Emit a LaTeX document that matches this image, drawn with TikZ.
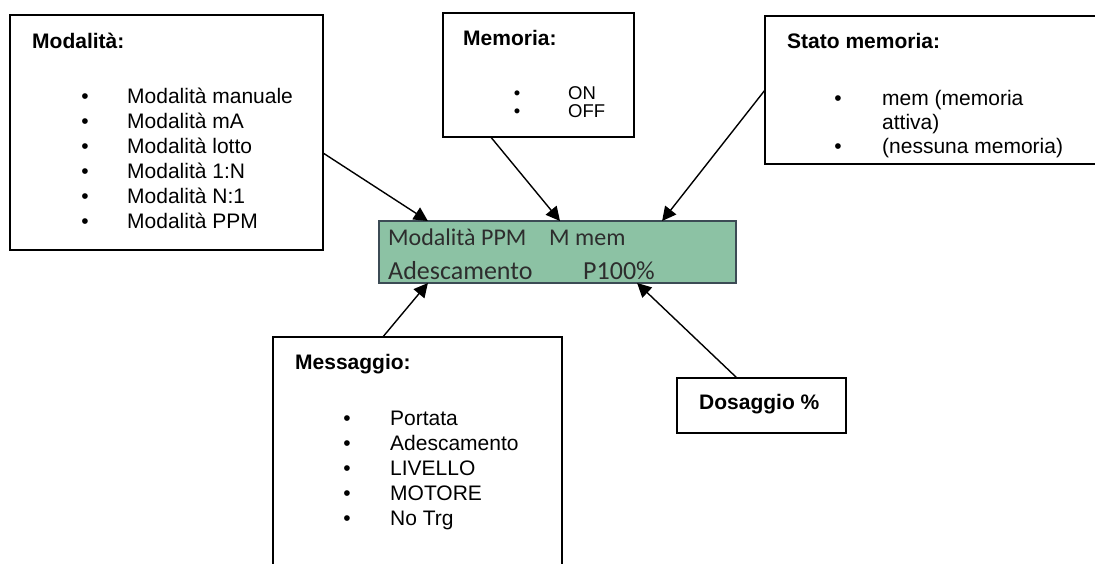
\documentclass[tikz,border=0pt]{standalone}
\usepackage{fontspec}
\setmainfont{Liberation Sans}
\newfontfamily\lcdfont{Carlito}
\usetikzlibrary{arrows.meta,calc}
\definecolor{lcdgreen}{RGB}{140,194,164}
\definecolor{lcdedge}{RGB}{60,75,85}
\definecolor{lcdtext}{RGB}{45,45,45}
\tikzset{
 box/.style={draw=black, line width=1.5pt, fill=white, inner sep=0pt, outer sep=0pt, anchor=north west, rectangle},
 ttl/.style={anchor=base west, inner sep=0pt, font=\fontsize{21}{25}\selectfont\bfseries},
 itm/.style={anchor=base west, inner sep=0pt, font=\fontsize{21}{25}\selectfont},
 bul/.style={anchor=base, inner sep=0pt, font=\fontsize{21}{25}\selectfont},
 sitm/.style={anchor=base west, inner sep=0pt, font=\fontsize{18.5}{20}\selectfont},
 sbul/.style={anchor=base, inner sep=0pt, font=\fontsize{18.5}{20}\selectfont},
 lcdtxt/.style={anchor=base west, inner sep=0pt, text=lcdtext, font=\lcdfont\fontsize{26}{30}\selectfont},
 lcdtxtA/.style={anchor=base west, inner sep=0pt, text=lcdtext, font=\lcdfont\fontsize{24}{28}\selectfont},
 conn/.style={line width=1.4pt, -{Triangle[length=14pt,width=14pt]}},
}
\begin{document}
\begin{tikzpicture}[x=1pt,y=-1pt]
\useasboundingbox (0,0) rectangle (1095,563);
\clip (0,0) rectangle (1095,563);

% Modalita box
\node[box, minimum width=313pt, minimum height=235pt] (mod) at (10,15) {};
\node[ttl] (modt) at (32,48) {Modalità:};
\foreach \t [count=\i from 0] in {Modalità manuale, Modalità mA, Modalità lotto, Modalità 1:N, Modalità N:1, Modalità PPM}{
  \node[bul] (modb\i) at (85,103+25*\i) {•};
  \node[itm] (modi\i) at (127,103+25*\i) {\t};
}

% Memoria box
\node[box, minimum width=191pt, minimum height=124pt] (memo) at (443,13) {};
\node[ttl] (memot) at (463,45) {Memoria:};
\node[sbul] (memob0) at (517,99) {•};
\node[sitm] (memoi0) at (568,99) {ON};
\node[sbul] (memob1) at (517,117) {•};
\node[sitm] (memoi1) at (568,117) {OFF};

% Stato memoria box
\node[box, minimum width=345pt, minimum height=148pt] (stato) at (765,16) {};
\node[ttl] (statot) at (787,48) {Stato memoria:};
\node[bul] (statob0) at (838,105) {•};
\node[itm] (statoi0) at (882,105) {mem (memoria};
\node[itm] (statoi1) at (882,129) {attiva)};
\node[bul] (statob2) at (838,153) {•};
\node[itm] (statoi2) at (882,153) {(nessuna memoria)};

% Messaggio box
\node[box, minimum width=289pt, minimum height=240pt] (msg) at (273,337) {};
\node[ttl] (msgt) at (295,369) {Messaggio:};
\foreach \t [count=\i from 0] in {Portata, Adescamento, LIVELLO, MOTORE, No Trg}{
  \node[bul] (msgb\i) at (347,425+25*\i) {•};
  \node[itm] (msgi\i) at (390,425+25*\i) {\t};
}

% Dosaggio box
\node[box, minimum width=169pt, minimum height=55pt] (dos) at (677,378) {};
\node[ttl] (dost) at (699,409) {Dosaggio \%};

% LCD
\node[draw=lcdedge, fill=lcdgreen, line width=2pt, inner sep=0pt, outer sep=0pt, anchor=north west, minimum width=357pt, minimum height=62pt] (lcd) at (379,221) {};
\node[lcdtxtA] (l1a) at (388,245) {Modalità PPM};
\node[lcdtxtA] (l1b) at (549,245) {M mem};
\node[lcdtxt] (l2a) at (388,279) {Adescamento};
\node[lcdtxt] (l2b) at (583,279) {P100\%};

% connectors
\draw[conn] ($(mod.north east)!0.587!(mod.south east)$) -- ($(lcd.north west)!0.137!(lcd.north east)$);
\draw[conn] ($(memo.south west)!0.25!(memo.south east)$) -- ($(lcd.north west)!0.507!(lcd.north east)$);
\draw[conn] ($(stato.north west)!0.50!(stato.south west)$) -- ($(lcd.north west)!0.793!(lcd.north east)$);
\draw[conn] ($(msg.north west)!0.38!(msg.north east)$) -- ($(lcd.south west)!0.137!(lcd.south east)$);
\draw[conn] ($(dos.north west)!0.355!(dos.north east)$) -- ($(lcd.south west)!0.723!(lcd.south east)$);
\end{tikzpicture}
\end{document}
